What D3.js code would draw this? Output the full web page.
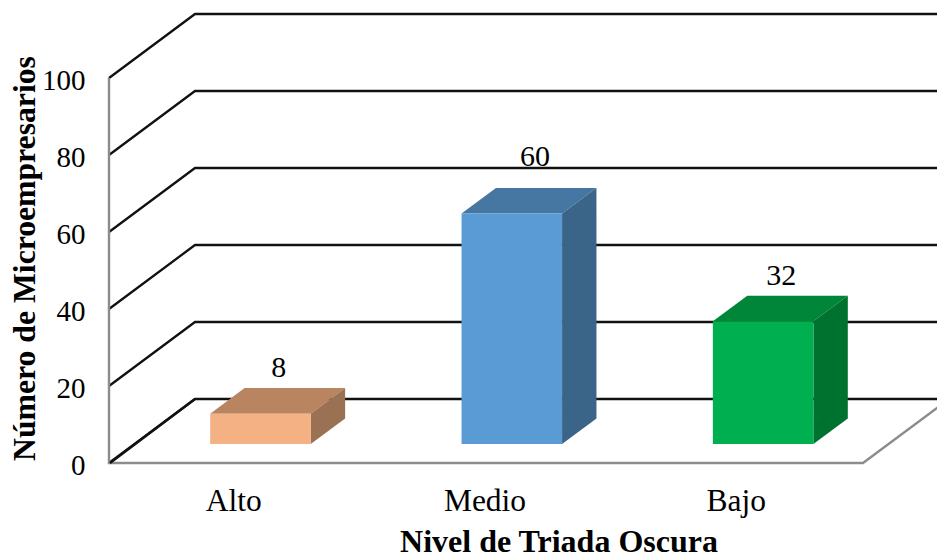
<!DOCTYPE html>
<html><head><meta charset="utf-8">
<script src="https://cdn.jsdelivr.net/npm/d3@7/dist/d3.min.js"></script>
<style>html,body{margin:0;padding:0;background:#fff}svg{display:block}text{font-family:"Liberation Serif",serif;fill:#000}</style>
</head><body><svg id="c" width="937" height="555"></svg>
<script>
const categories = ["Alto","Medio","Bajo"];
const values = [8,60,32];
const frontColors = ["#F4B183","#5B9BD5","#00B050"];
const topColors = ["#B98560","#4676A2","#008638"];
const sideColors = ["#9A7253","#3A6488","#00722F"];
const tickValues = [0,20,40,60,80,100];
const xTitle = "Nivel de Triada Oscura";
const yTitle = "Número de Microempresarios";

const svg = d3.select("#c");
const x = d3.scaleBand().domain(categories).range([109,863]).paddingInner(0.6).paddingOuter(0.3);
const y = d3.scaleLinear().domain([0,100]).range([463,78]);
const dxFull = 86, dyFull = -64;
const px = (xv,d)=>xv+dxFull*d;
const py = (yv,d)=>yv+dyFull*d;
const line = d3.line();

// grid lines
svg.append("g").selectAll("path").data(tickValues).join("path")
  .attr("d",v=>line([[109,y(v)],[px(109,1),py(y(v),1)],[px(863,1),py(y(v),1)]]))
  .attr("fill","none").attr("stroke","#111").attr("stroke-width",2.3);

// floor and wall
svg.append("path").attr("d",line([[109,y(100)],[109,y(0)],[863,y(0)],[px(863,1),py(y(0),1)]]))
  .attr("fill","none").attr("stroke","#8c8c8c").attr("stroke-width",2.4);
svg.append("path").attr("d",line([[110,y(0)],[px(109,1),py(y(0),1)]]))
  .attr("fill","none").attr("stroke","#111").attr("stroke-width",2.3);

// bars
const d0=0.30,d1=0.70;
const bars = svg.append("g").selectAll("g").data(categories.map((c,i)=>({c,v:values[i],i}))).join("g");
bars.each(function(b){
  const g=d3.select(this);
  const l=x(b.c), r=l+x.bandwidth();
  const xa=px(l,d0), xb=px(r,d0), xc=px(r,d1), xd=px(l,d1);
  const yb=py(y(0),d0)+0.3, yt=py(y(b.v),d0)+0.7, yb2=py(y(0),d1)+0.3, yt2=py(y(b.v),d1)+0.7;
  g.append("path").attr("d",line([[xa,yt],[xb,yt],[xc,yt2],[xd,yt2]])+"Z").attr("fill",topColors[b.i]);
  g.append("path").attr("d",line([[xb,yt],[xc,yt2],[xc,yb2],[xb,yb]])+"Z").attr("fill",sideColors[b.i]);
  g.append("path").attr("d",line([[xa,yt],[xb,yt],[xb,yb],[xa,yb]])+"Z").attr("fill",frontColors[b.i]);
  const tall = b.v===d3.max(values);
  g.append("text").attr("x",(xa+xc)/2+(tall?6:1)).attr("y",yt2-(tall?22:11)).attr("text-anchor","middle")
    .attr("font-size",30).text(b.v);
});

// tick labels
svg.append("g").selectAll("text").data(tickValues).join("text")
  .attr("x",85.5).attr("y",v=>y(v)+12).attr("text-anchor","end").attr("font-size",29).text(v=>v);
svg.append("g").selectAll("text").data(categories).join("text")
  .attr("x",c=>x(c)+x.bandwidth()/2-1).attr("y",511).attr("text-anchor","middle").attr("font-size",31.5).text(c=>c);

// titles
svg.append("text").attr("x",559).attr("y",552).attr("text-anchor","middle")
  .attr("font-size",32).attr("font-weight","bold").text(xTitle);
svg.append("text").attr("transform","translate(35,258.5) rotate(-90)").attr("text-anchor","middle")
  .attr("font-size",31.7).attr("font-weight","bold").text(yTitle);
</script></body></html>
